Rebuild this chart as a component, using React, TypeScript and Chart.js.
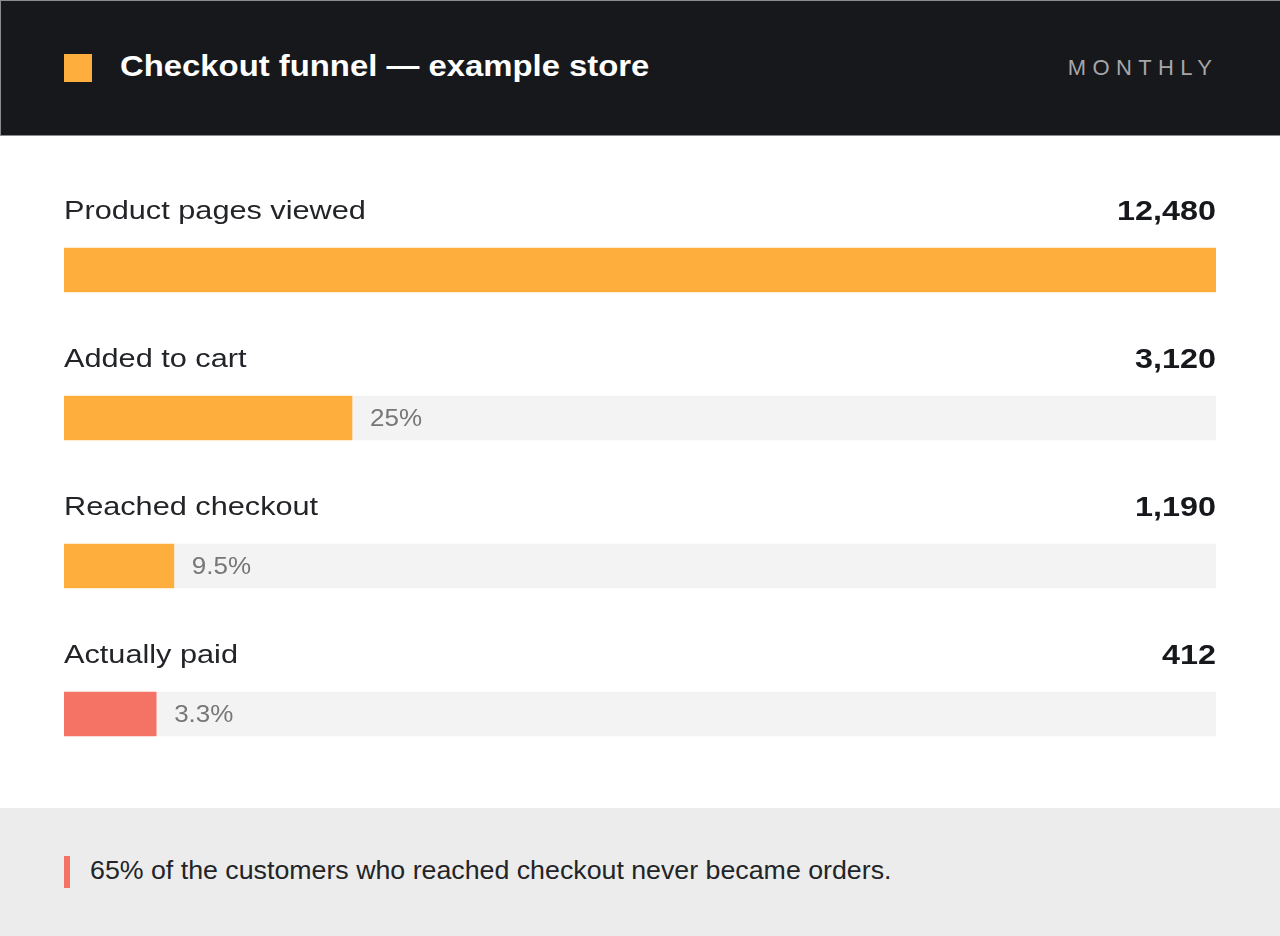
import React, { useEffect, useRef } from "react";
import { Chart, registerables } from "chart.js";

Chart.register(...registerables);

const TITLE = "Checkout funnel — example store";
const PERIOD = "MONTHLY";
const STAGES = ["Product pages viewed", "Added to cart", "Reached checkout", "Actually paid"];
const COUNTS = [12480, 3120, 1190, 412];
const BAR_COLORS = ["#FDAE3C", "#FDAE3C", "#FDAE3C", "#F47365"];
const TRACK_COLOR = "#F3F3F3";
const MIN_BAR_SHARE = 0.08; // smallest visible bar, as share of the first stage
const NOTE = "65% of the customers who reached checkout never became orders.";

const FONT = '"Liberation Sans", Arial, Helvetica, sans-serif';

function pctText(v: number, total: number): string {
  const p = Math.round((v / total) * 1000) / 10;
  return (Number.isInteger(p) ? p.toFixed(0) : p.toFixed(1)) + "%";
}

function wideText(c: CanvasRenderingContext2D, text: string, x: number, y: number, align: CanvasTextAlign, sx: number) {
  c.save();
  c.translate(x, y);
  c.scale(sx, 1);
  c.textAlign = align;
  c.textBaseline = "alphabetic";
  c.fillText(text, 0, 0);
  c.restore();
}

const labelPlugin = {
  id: "funnelLabels",
  afterDatasetsDraw(chart: any) {
    const c = chart.ctx as CanvasRenderingContext2D;
    const area = chart.chartArea;
    const meta = chart.getDatasetMeta(0);
    const total = COUNTS[0];
    meta.data.forEach((bar: any, i: number) => {
      const y = bar.y;
      c.save();
      c.fillStyle = "#222428";
      c.font = `26px ${FONT}`;
      wideText(c, STAGES[i], area.left, y - 51.5, "left", 1.18);
      c.fillStyle = "#16181c";
      c.font = `bold 28px ${FONT}`;
      wideText(c, COUNTS[i].toLocaleString("en-US"), area.right, y - 50, "right", 1.155);
      if (i > 0) {
        c.fillStyle = "#777777";
        c.font = `23px ${FONT}`;
        wideText(c, pctText(COUNTS[i], total), bar.x + 18, y + 7.5, "left", 1.13);
      }
      c.restore();
    });
  },
};

function FunnelChart() {
  const ref = useRef<HTMLCanvasElement | null>(null);
  useEffect(() => {
    if (!ref.current) return;
    const total = COUNTS[0];
    const shown = COUNTS.map((v) => Math.max(v, total * MIN_BAR_SHARE));
    const rest = shown.map((v) => total - v);
    const chart = new Chart(ref.current, {
      type: "bar",
      data: {
        labels: STAGES,
        datasets: [
          { data: shown, backgroundColor: BAR_COLORS, borderWidth: 0, barThickness: 44, stack: "s" },
          { data: rest, backgroundColor: TRACK_COLOR, borderWidth: 0, barThickness: 44, stack: "s" },
        ],
      },
      options: {
        indexAxis: "y",
        responsive: false,
        maintainAspectRatio: false,
        animation: false,
        layout: { padding: { left: 64, right: 64, top: 60, bottom: 20 } },
        scales: {
          x: { stacked: true, min: 0, max: total, display: false },
          y: { stacked: true, display: false },
        },
        plugins: { legend: { display: false }, tooltip: { enabled: false } },
      },
      plugins: [labelPlugin],
    } as any);
    return () => chart.destroy();
  }, []);
  return <canvas ref={ref} width={1280} height={672} style={{ display: "block", width: 1280, height: 672 }} />;
}

export default function App() {
  return (
    <div
      style={{
        position: "absolute",
        left: 0,
        top: 0,
        width: 1280,
        height: 936,
        background: "#ffffff",
        fontFamily: FONT,
        overflow: "hidden",
      }}
    >
      <div
        style={{
          position: "absolute",
          left: 0,
          top: 0,
          width: 1280,
          height: 136,
          background: "#16181c",
          boxSizing: "border-box",
          borderTop: "1px solid #8a8b8d",
          borderBottom: "1px solid #8a8b8d",
          borderLeft: "1px solid #8a8b8d",
        }}
      />
      <div style={{ position: "absolute", left: 64, top: 54, width: 28, height: 28, background: "#FDAE3C" }} />
      <div
        style={{
          position: "absolute",
          left: 120,
          top: 51,
          fontSize: 30,
          lineHeight: "30px",
          fontWeight: 700,
          color: "#ffffff",
          whiteSpace: "nowrap",
          transform: "scaleX(1.095)",
          transformOrigin: "0 0",
        }}
      >
        {TITLE}
      </div>
      <div
        style={{
          position: "absolute",
          right: 68,
          top: 56.5,
          fontSize: 22,
          lineHeight: "22px",
          letterSpacing: "6.4px",
          marginRight: -6.4,
          color: "#a6a6a8",
          whiteSpace: "nowrap",
        }}
      >
        {PERIOD}
      </div>
      <div style={{ position: "absolute", left: 0, top: 136 }}>
        <FunnelChart />
      </div>
      <div style={{ position: "absolute", left: 0, top: 808, width: 1280, height: 128, background: "#ececec" }} />
      <div style={{ position: "absolute", left: 64, top: 856, width: 6, height: 32, background: "#F47365" }} />
      <div
        style={{
          position: "absolute",
          left: 90,
          top: 858,
          fontSize: 25,
          lineHeight: "25px",
          color: "#222428",
          whiteSpace: "nowrap",
          transform: "scaleX(1.07)",
          transformOrigin: "0 0",
        }}
      >
        {NOTE}
      </div>
    </div>
  );
}
